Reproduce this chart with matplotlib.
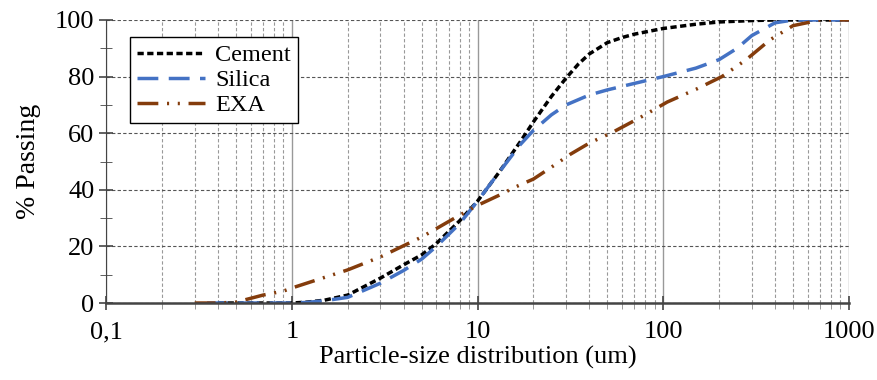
import matplotlib
matplotlib.use("Agg")
from matplotlib import pyplot as plt
import matplotlib.ticker as mtick

# Configure the font
plt.rcParams['font.family'] = ['Liberation Serif', 'DejaVu Serif']
plt.rcParams['font.size'] = 19

# particle size (um) and % passing
cement_x = [0.4, 0.6, 0.8, 1.0, 1.2, 1.5, 2, 3, 4, 5, 6, 8, 10, 13, 17, 20, 25, 30, 35, 40, 50, 60, 70, 100, 150, 200, 300, 400, 1000]
cement_y = [0, 0, 0, 0, 0.3, 1.0, 2.8, 8.8, 13.5, 17, 21, 29, 36, 46, 57, 64, 73, 79.5, 84.5, 88, 92, 93.8, 95, 97, 98.5, 99.3, 99.8, 100, 100]

silica_x = [0.35, 0.6, 0.8, 1.0, 1.2, 1.5, 2, 3, 4, 5, 6, 8, 10, 13, 17, 20, 25, 30, 40, 50, 70, 100, 150, 200, 250, 300, 400, 500, 1000]
silica_y = [0, 0, 0, 0, 0.2, 0.8, 2, 7, 11.5, 15.5, 20, 28, 36, 46, 56, 61, 66.5, 70, 73.5, 75.3, 77.6, 80, 83, 86, 90, 94.5, 99, 100, 100]

exa_x = [0.3, 0.4, 0.5, 0.7, 0.9, 1, 2, 3, 5, 8, 10, 13, 16, 20, 25, 31.5, 40, 54, 75, 105, 150, 207, 280, 376, 500, 700, 1000]
exa_y = [0, 0, 0.3, 2.8, 4.2, 5.3, 11.7, 16.3, 23.3, 31, 34.5, 38, 41, 43.8, 48, 52.5, 56.5, 60.5, 65.5, 71, 75.5, 80, 86, 93, 98, 100, 100]

fig = plt.figure(figsize=(8.77, 3.8), dpi=100)
ax = fig.add_axes([0.121, 0.2026, 0.847, 0.7448])

ax.plot(cement_x, cement_y, color='black', linewidth=2.5, linestyle=(0, (1.8, 1.0)), label='Cement')
ax.plot(silica_x, silica_y, color='#4472C4', linewidth=2.5, linestyle=(0, (6, 3)), label='Silica')
ax.plot(exa_x, exa_y, color='#843C0C', linewidth=2.5, linestyle=(0, (6, 2.5, 0.6, 2.5, 0.6, 2.5)), label='EXA')

ax.set_xscale('log')
ax.set_xlim(0.1, 1000)
ax.set_ylim(0, 100)
ax.xaxis.set_minor_locator(mtick.LogLocator(base=10, subs=range(2, 10)))
ax.xaxis.set_minor_formatter(mtick.NullFormatter())
ax.set_xticks([0.1, 1, 10, 100, 1000])
ax.set_xticklabels(['0,1', '1', '10', '100', '1000'])
ax.set_yticks(range(0, 101, 20))
ax.yaxis.set_minor_locator(mtick.MultipleLocator(10))

# grid
ax.grid(which='major', axis='x', color='#999999', linestyle='-', linewidth=1)
ax.grid(which='minor', axis='x', color='#999999', linestyle=(0, (3, 2)), linewidth=0.8)
ax.grid(which='major', axis='y', color='#555555', linestyle=(0, (3, 2)), linewidth=0.8)
ax.set_axisbelow(True)

for s in ['top', 'right']:
    ax.spines[s].set_visible(False)
ax.spines['left'].set_color('#444444')
ax.spines['bottom'].set_color('#444444')
ax.spines['bottom'].set_linewidth(1.8)
ax.tick_params(axis='both', which='major', direction='inout', length=10, color='#444444', width=1.2)
ax.tick_params(axis='y', which='minor', direction='inout', length=8, color='#444444')
ax.tick_params(axis='x', which='minor', direction='out', length=4, color='#888888')
ax.tick_params(axis='x', pad=8)

ax.set_xlabel('Particle-size distribution (um)', labelpad=2)
ax.set_ylabel('% Passing', labelpad=10, fontsize=20)

leg = ax.legend(loc='upper left', bbox_to_anchor=(0.032, 0.94), borderaxespad=0, fancybox=False, framealpha=1,
                edgecolor='black', handlelength=2.8, borderpad=0.3, labelspacing=0.12, handletextpad=0.4, fontsize=17.5)
leg.get_frame().set_linewidth(1)

plt.savefig('out.png', dpi=100)
